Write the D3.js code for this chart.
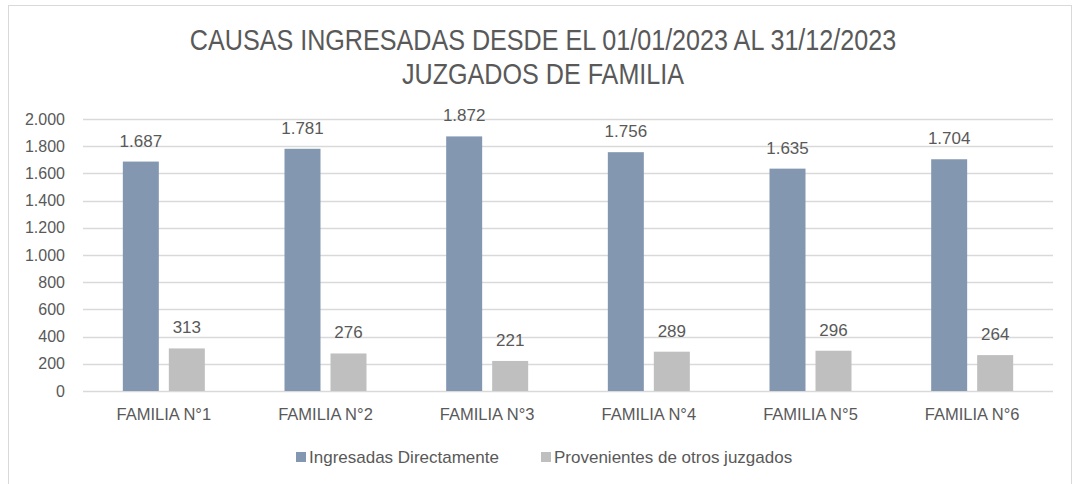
<!DOCTYPE html>
<html>
<head>
<meta charset="utf-8">
<script src="https://cdn.jsdelivr.net/npm/d3@7"></script>
<style>
  body { margin: 0; background: #fff; }
  text { font-family: "Liberation Sans Narrow", "Arial Narrow", "Liberation Sans", sans-serif; fill: #595959; }
</style>
</head>
<body>
<div id="canvas"></div>
<script>
// chart data
var categories = ["FAMILIA N°1", "FAMILIA N°2", "FAMILIA N°3", "FAMILIA N°4", "FAMILIA N°5", "FAMILIA N°6"];
var seriesNames = ["Ingresadas Directamente", "Provenientes de otros juzgados"];
var directas = [1687, 1781, 1872, 1756, 1635, 1704];
var otros = [313, 276, 221, 289, 296, 264];
var yTicks = [0, 200, 400, 600, 800, 1000, 1200, 1400, 1600, 1800, 2000];
var titleLines = ["CAUSAS INGRESADAS DESDE EL 01/01/2023 AL 31/12/2023", "JUZGADOS DE FAMILIA"];

var colors = ["#8497B0", "#BFBFBF"];

var winWidth = 1077, winHeight = 484;
var margin = { top: 119, right: 24, bottom: 93, left: 83 },
  width = winWidth - margin.left - margin.right,
  height = winHeight - margin.top - margin.bottom;

var locale = d3.formatLocale({ decimal: ",", thousands: ".", grouping: [3], currency: ["", ""] });
var fmt = locale.format(",d");

var svg = d3.select("#canvas").append("svg")
  .attr("width", winWidth)
  .attr("height", winHeight);

// outer frame
svg.append("rect")
  .attr("x", 8.5).attr("y", 5.5)
  .attr("width", 1063).attr("height", 490)
  .attr("fill", "none")
  .attr("stroke", "#D9D9D9");

// title (narrowed, the original uses a condensed face)
svg.append("g").selectAll("text")
  .data(titleLines)
  .enter().append("text")
  .attr("transform", function(d, i) { return "translate(543," + (50 + i * 34) + ") scale(0.867,1)"; })
  .attr("text-anchor", "middle")
  .style("font-size", "29px")
  .text(function(d) { return d; });

var g = svg.append("g")
  .attr("transform", "translate(" + margin.left + "," + margin.top + ")");

var x = d3.scaleBand()
  .domain(categories)
  .range([0, width]);

var y = d3.scaleLinear()
  .domain([0, 2000])
  .range([height, 0]);

var barW = 36, gap = 10;

// gridlines
g.append("g").selectAll("line")
  .data(yTicks)
  .enter().append("line")
  .attr("x1", 0).attr("x2", width)
  .attr("y1", function(d) { return Math.round(y(d)) + 0.5; })
  .attr("y2", function(d) { return Math.round(y(d)) + 0.5; })
  .attr("stroke", "#D9D9D9")
  .attr("stroke-width", 1.5);

// y tick labels
g.append("g").selectAll("text")
  .data(yTicks)
  .enter().append("text")
  .attr("x", -18)
  .attr("y", function(d) { return y(d) + 5.5; })
  .attr("text-anchor", "end")
  .style("font-size", "16px")
  .text(function(d) { return fmt(d); });

var series = [directas, otros];

series.forEach(function(vals, s) {
  var off = s === 0 ? -gap / 2 - barW : gap / 2;
  var grp = g.append("g");
  grp.selectAll("rect")
    .data(vals)
    .enter().append("rect")
    .attr("x", function(d, i) { return x(categories[i]) + x.bandwidth() / 2 + off; })
    .attr("y", function(d) { return y(d); })
    .attr("width", barW)
    .attr("height", function(d) { return height - y(d); })
    .attr("fill", colors[s]);
  grp.selectAll("text")
    .data(vals)
    .enter().append("text")
    .attr("x", function(d, i) { return x(categories[i]) + x.bandwidth() / 2 + off + barW / 2; })
    .attr("y", function(d) { return y(d) - 15; })
    .attr("text-anchor", "middle")
    .style("font-size", "17px")
    .text(function(d) { return fmt(d); });
});

// category labels
g.append("g").selectAll("text")
  .data(categories)
  .enter().append("text")
  .attr("x", function(d) { return x(d) + x.bandwidth() / 2; })
  .attr("y", height + 29)
  .attr("text-anchor", "middle")
  .style("font-size", "16.5px")
  .text(function(d) { return d; });

// legend
var legendPos = [296, 541];
var legend = svg.append("g");
seriesNames.forEach(function(name, i) {
  legend.append("rect")
    .attr("x", legendPos[i]).attr("y", 452)
    .attr("width", 10).attr("height", 10)
    .attr("fill", colors[i]);
  legend.append("text")
    .attr("x", legendPos[i] + 13)
    .attr("y", 463)
    .style("font-size", "17px")
    .text(name);
});
</script>
</body>
</html>
